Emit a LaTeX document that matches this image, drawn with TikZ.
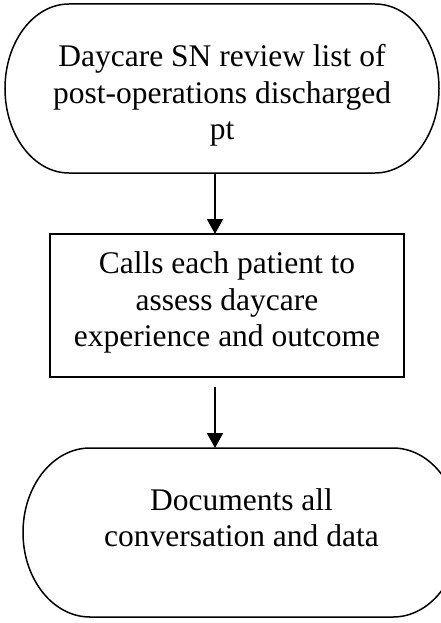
\documentclass[tikz,border=0pt]{standalone}
\usepackage{fontspec}
\setmainfont{Liberation Serif}
\usetikzlibrary{arrows.meta}
\begin{document}
\begin{tikzpicture}[x=1pt,y=-1pt,
  shapebox/.style={minimum width=#1, inner sep=0pt, outer sep=0pt},
  txt/.style={align=center, inner sep=0pt, font=\fontsize{31.5}{36.5}\selectfont},
  outline/.style={line width=1.5pt, black},
  arr/.style={line width=1.8pt, -{Triangle[width=16pt,length=15pt]}}]
\useasboundingbox (0,0) rectangle (441,623);
\clip (0,0) rectangle (441,623);
% top terminator
\node[shapebox=434pt, minimum height=169pt] (t1) at (222,88.5) {};
\draw[outline] ([xshift=64pt]t1.north west) -- ([xshift=-64pt]t1.north east)
  arc[start angle=90, end angle=-90, x radius=64pt, y radius=84.5pt]
  -- ([xshift=64pt]t1.south west)
  arc[start angle=270, end angle=90, x radius=64pt, y radius=84.5pt] -- cycle;
\node[txt] (t1txt) at ([yshift=-7pt]t1.center) {Daycare SN review list of\\post-operations discharged\\pt};
% process box
\node[shapebox=354pt, minimum height=143pt, draw, outline] (b2) at (227,305.5) {};
\node[txt] (b2txt) at ([yshift=3pt]b2.center) {Calls each patient to\\assess daycare\\experience and outcome};
% bottom terminator
\node[shapebox=437pt, minimum height=169pt] (t3) at (241.5,532.5) {};
\draw[outline] ([xshift=67pt]t3.north west) -- ([xshift=-67pt]t3.north east)
  arc[start angle=90, end angle=-90, x radius=67pt, y radius=84.5pt]
  -- ([xshift=67pt]t3.south west)
  arc[start angle=270, end angle=90, x radius=67pt, y radius=84.5pt] -- cycle;
\node[txt] (t3txt) at ([yshift=15pt]t3.center) {Documents all\\conversation and data};
% connectors
\coordinate (ax) at (215,0);
\draw[arr] (t1.south -| ax) -- (b2.north -| ax);
\draw[arr, shorten <=10pt] (b2.south -| ax) -- (t3.north -| ax);
\end{tikzpicture}
\end{document}
